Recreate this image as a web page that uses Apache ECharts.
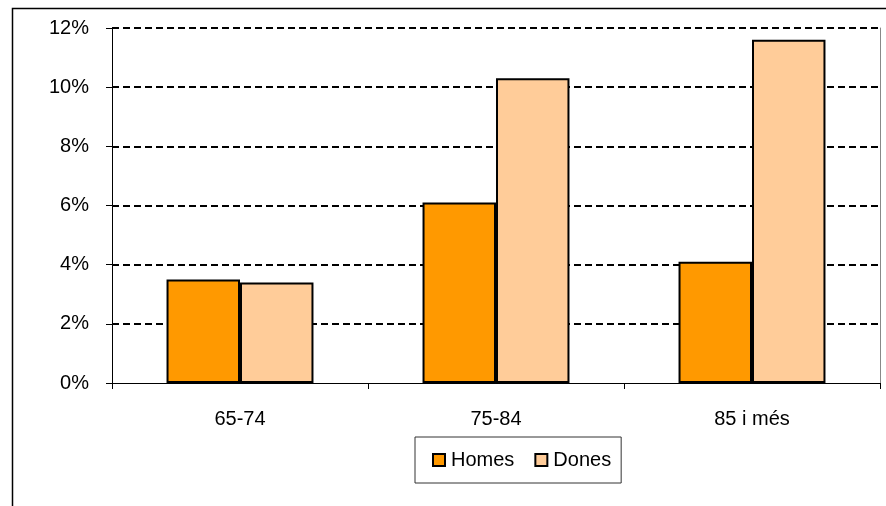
<!DOCTYPE html>
<html>
<head>
<meta charset="utf-8">
<script src="https://cdn.jsdelivr.net/npm/echarts@6/dist/echarts.min.js"></script>
<style>
  html, body { margin: 0; padding: 0; background: #fff; }
  #chart { width: 886px; height: 506px; }
</style>
</head>
<body>
<div id="chart"></div>
<script>
// Age groups and share (%) for each sex
const categories = ['65-74', '75-84', '85 i més'];
const homes = [3.5, 6.1, 4.1];
const dones = [3.4, 10.3, 11.6];
const seriesNames = ['Homes', 'Dones'];

const FONT = 'Liberation Sans, Arial, sans-serif';

const chart = echarts.init(document.getElementById('chart'), null, { renderer: 'canvas' });

chart.setOption({
  animation: false,
  backgroundColor: '#fff',
  textStyle: { fontFamily: FONT },
  graphic: [{
    type: 'rect',
    left: 10, top: 6,
    shape: { width: 900, height: 600 },
    style: { fill: 'none', stroke: '#000', lineWidth: 1.5 },
    silent: true,
    z: -10
  }],
  grid: { left: 112, right: 6, top: 28, bottom: 123, containLabel: false },
  legend: {
    data: seriesNames,
    left: 415, top: 437,
    padding: [13, 10, 13, 17],
    borderColor: '#333', borderWidth: 1,
    itemWidth: 12, itemHeight: 12, itemGap: 20,
    icon: 'rect',
    textStyle: { fontSize: 20, color: '#000', fontFamily: FONT, padding: [0, 0, 0, 1] }
  },
  xAxis: {
    type: 'category',
    data: categories,
    axisLine: { lineStyle: { color: '#000', width: 1 } },
    axisTick: { show: true, length: 6, alignWithLabel: false, lineStyle: { color: '#000' } },
    axisLabel: { fontSize: 20, color: '#000', margin: 26, fontFamily: FONT },
    splitLine: { show: false }
  },
  yAxis: [{
    type: 'value',
    min: 0, max: 12, interval: 2,
    axisLine: { show: true, lineStyle: { color: '#000', width: 1 } },
    axisTick: { show: true, length: 6, lineStyle: { color: '#000' } },
    axisLabel: { fontSize: 20, color: '#000', margin: 23, formatter: '{value}%', fontFamily: FONT },
    splitLine: { show: true, showMinLine: false, lineStyle: { color: '#000', width: 2, type: [7, 4] } }
  }, {
    type: 'value',
    position: 'right',
    min: 0, max: 12, interval: 2,
    axisLine: { show: true, lineStyle: { color: '#888', width: 1 } },
    axisTick: { show: false },
    axisLabel: { show: false },
    splitLine: { show: false }
  }],
  series: [{
    name: seriesNames[0],
    type: 'bar',
    data: homes,
    barGap: '0%',
    barCategoryGap: '42.6%',
    itemStyle: { color: '#FF9900', borderColor: '#000', borderWidth: 2 }
  }, {
    name: seriesNames[1],
    type: 'bar',
    data: dones,
    barGap: '0%',
    barCategoryGap: '42.6%',
    itemStyle: { color: '#FFCC99', borderColor: '#000', borderWidth: 2 }
  }]
});
</script>
</body>
</html>
